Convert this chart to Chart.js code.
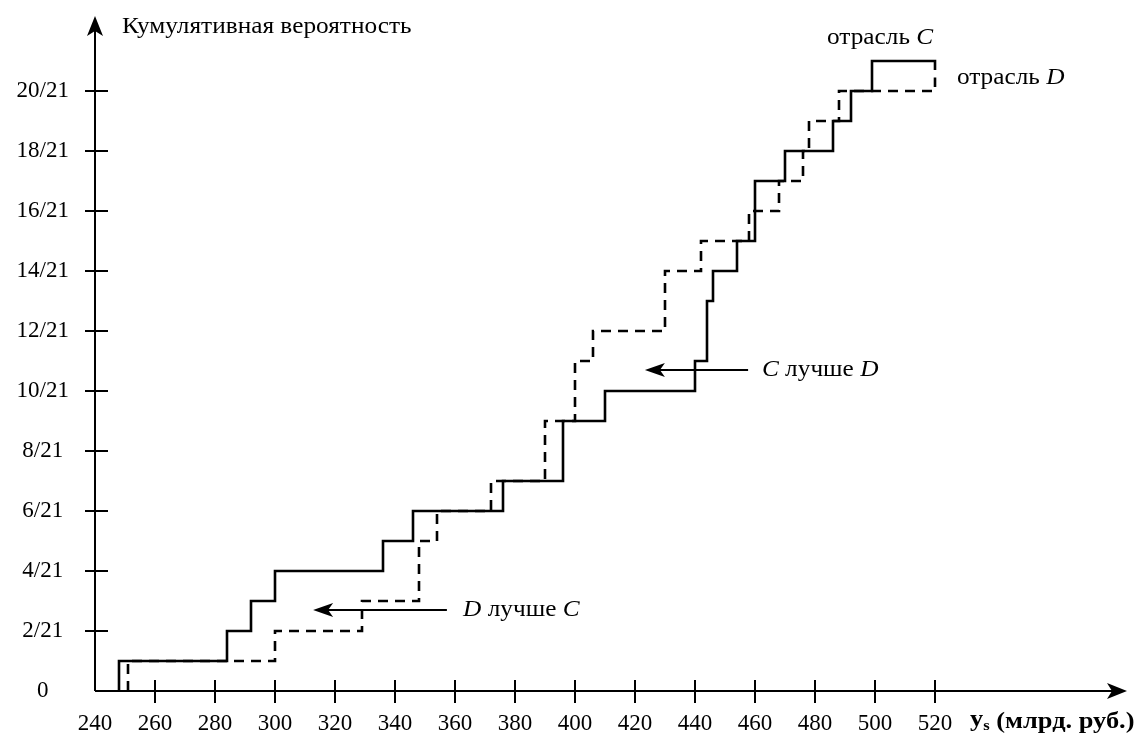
<!DOCTYPE html>
<html>
<head>
<meta charset="utf-8">
<script src="https://cdn.jsdelivr.net/npm/chart.js@4"></script>
<style>
  html, body { margin: 0; padding: 0; background: #fff; }
  canvas { display: block; }
</style>
</head>
<body>
<canvas id="chart" width="1141" height="749"></canvas>
<script>
// sorted observations (bln rub) for each industry
const industryC = [248, 284, 292, 300, 336, 346, 376, 396, 396, 410, 440, 444, 444, 446, 454, 460, 460, 470, 486, 492, 499];
const industryD = [251, 300, 329, 348, 348, 354, 372, 390, 390, 400, 400, 406, 430, 430, 442, 458, 468, 476, 478, 488];
const lineEnd = 520;
const endMarkC = 20.7;
const endMarkD = 20.45;

const xTickValues = [240, 260, 280, 300, 320, 340, 360, 380, 400, 420, 440, 460, 480, 500, 520];
const yTickValues = [0, 2, 4, 6, 8, 10, 12, 14, 16, 18, 20];
const yTickLabels = ['0', '2/21', '4/21', '6/21', '8/21', '10/21', '12/21', '14/21', '16/21', '18/21', '20/21'];

const SERIF = "'Liberation Serif', 'DejaVu Serif', serif";
const STRETCH = 1.1; // the scan's lettering is a bit wider than plain Times

// build step points: (value, count of observations <= value)
function cumulativePoints(values, endMark) {
    const pts = [{ x: values[0], y: 0 }];
    values.forEach((v, i) => {
        if (i < values.length - 1 && values[i + 1] === v) return;
        pts.push({ x: v, y: i + 1 });
    });
    pts.push({ x: lineEnd, y: values.length });
    pts.push({ x: lineEnd, y: endMark });
    return pts;
}

function arrowHead(ctx, x, y, dir, len, half) {
    ctx.beginPath();
    if (dir === 'up') {
        ctx.moveTo(x, y);
        ctx.lineTo(x - half, y + len);
        ctx.lineTo(x, y + len * 0.75);
        ctx.lineTo(x + half, y + len);
    } else if (dir === 'right') {
        ctx.moveTo(x, y);
        ctx.lineTo(x - len, y - half);
        ctx.lineTo(x - len * 0.75, y);
        ctx.lineTo(x - len, y + half);
    } else {
        ctx.moveTo(x, y);
        ctx.lineTo(x + len, y - half);
        ctx.lineTo(x + len * 0.75, y);
        ctx.lineTo(x + len, y + half);
    }
    ctx.closePath();
    ctx.fill();
}

// draws runs of text at (px, py) left-aligned, slightly stretched horizontally
function drawRuns(ctx, runs, px, py) {
    ctx.save();
    ctx.translate(px, py);
    ctx.scale(STRETCH, 1);
    ctx.textBaseline = 'middle';
    ctx.textAlign = 'left';
    let cx = 0;
    runs.forEach(([txt, font, dy]) => {
        ctx.font = font;
        ctx.fillText(txt, cx, dy || 0);
        cx += ctx.measureText(txt).width;
    });
    ctx.restore();
}

// axes with arrows, crossing tick marks and all free text
const decorations = {
    id: 'decorations',
    afterDraw(chart) {
        const ctx = chart.ctx;
        const xs = chart.scales.x, ys = chart.scales.y;
        const x0 = xs.getPixelForValue(240), y0 = ys.getPixelForValue(0);
        const yTop = ys.getPixelForValue(ys.max);
        const xRight = xs.getPixelForValue(xs.max);
        ctx.save();
        ctx.strokeStyle = '#000';
        ctx.fillStyle = '#000';
        ctx.lineWidth = 2;
        ctx.beginPath();
        ctx.moveTo(x0, y0); ctx.lineTo(x0, yTop + 10);
        ctx.moveTo(x0, y0); ctx.lineTo(xRight - 10, y0);
        ctx.stroke();
        arrowHead(ctx, x0, yTop, 'up', 20, 8);
        arrowHead(ctx, xRight, y0, 'right', 20, 8);

        ctx.beginPath();
        yTickValues.forEach(v => {
            if (v === 0) return;
            const py = ys.getPixelForValue(v);
            ctx.moveTo(x0 - 10, py); ctx.lineTo(x0 + 13, py);
        });
        xTickValues.forEach(v => {
            if (v === 240) return;
            const px = xs.getPixelForValue(v);
            ctx.moveTo(px, y0 - 11); ctx.lineTo(px, y0 + 12);
        });
        ctx.stroke();

        // annotation arrows
        function annArrow(fromX, toX, atY) {
            const a = xs.getPixelForValue(fromX), b = xs.getPixelForValue(toX), py = ys.getPixelForValue(atY);
            ctx.lineWidth = 2;
            ctx.beginPath(); ctx.moveTo(a, py); ctx.lineTo(b + 10, py); ctx.stroke();
            arrowHead(ctx, b, py, 'left', 20, 7);
        }
        annArrow(457.7, 423.3, 10.7);
        annArrow(357.3, 312.7, 2.7);

        const reg = '23px ' + SERIF, ita = 'italic 23px ' + SERIF;
        function label(runs, xv, yv) {
            drawRuns(ctx, runs, xs.getPixelForValue(xv), ys.getPixelForValue(yv));
        }
        label([['C', ita], [' лучше ', reg], ['D', ita]], 462.3, 10.7);
        label([['D', ita], [' лучше ', reg], ['C', ita]], 362.7, 2.7);
        label([['отрасль ', reg], ['C', ita]], 484, 21.77);
        label([['отрасль ', reg], ['D', ita]], 527.3, 20.43);

        // axis titles
        drawRuns(ctx, [['Кумулятивная вероятность', reg]], 122, 27);
        const bold = 'bold 24px ' + SERIF;
        drawRuns(ctx, [['y', bold, -2], ['s', 'bold 15px ' + SERIF, 4], [' (млрд. руб.)', bold]], 970, 722);
        ctx.restore();
    }
};

new Chart(document.getElementById('chart'), {
    type: 'line',
    data: {
        datasets: [
            {
                label: 'отрасль C',
                data: cumulativePoints(industryC, endMarkC),
                borderColor: '#000',
                borderWidth: 2.6,
                stepped: 'before',
                pointRadius: 0,
                borderJoinStyle: 'miter',
                borderCapStyle: 'butt',
                fill: false
            },
            {
                label: 'отрасль D',
                data: cumulativePoints(industryD, endMarkD),
                borderColor: '#000',
                borderWidth: 2.6,
                borderDash: [10, 7],
                stepped: 'before',
                pointRadius: 0,
                borderJoinStyle: 'miter',
                borderCapStyle: 'butt',
                fill: false
            }
        ]
    },
    options: {
        responsive: false,
        animation: false,
        layout: { padding: { top: 16, right: 14, left: 0, bottom: 0 } },
        plugins: { legend: { display: false }, tooltip: { enabled: false } },
        scales: {
            x: {
                type: 'linear',
                min: 240,
                max: 584,
                afterFit: s => { s.height = 58; s.paddingLeft = 0; s.paddingRight = 0; },
                afterBuildTicks: s => { s.ticks = xTickValues.map(v => ({ value: v })); },
                grid: { display: false, drawTicks: false },
                border: { display: false },
                ticks: {
                    autoSkip: false,
                    maxRotation: 0,
                    padding: 19,
                    color: '#000',
                    font: { family: SERIF, size: 23 },
                    callback: v => String(v)
                }
            },
            y: {
                type: 'linear',
                min: 0,
                max: 22.5,
                afterFit: s => { s.width = 95; s.paddingTop = 0; s.paddingBottom = 0; },
                afterBuildTicks: s => { s.ticks = yTickValues.map(v => ({ value: v })); },
                grid: { display: false, drawTicks: false },
                border: { display: false },
                ticks: {
                    autoSkip: false,
                    padding: 26,
                    crossAlign: 'center',
                    color: '#000',
                    font: { family: SERIF, size: 23 },
                    callback: v => yTickLabels[yTickValues.indexOf(v)]
                }
            }
        }
    },
    plugins: [decorations]
});
</script>
</body>
</html>
